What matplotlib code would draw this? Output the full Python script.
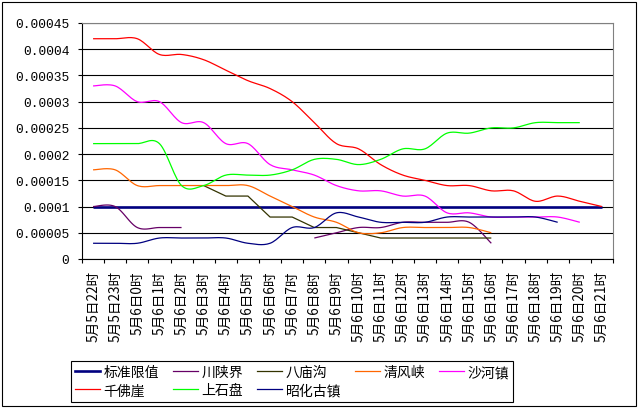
import matplotlib
matplotlib.use('Agg')
import matplotlib.pyplot as plt
import numpy as np
from matplotlib.patches import Rectangle
from matplotlib.lines import Line2D

plt.rcParams['font.family'] = ['Noto Sans CJK SC', 'DejaVu Sans']

# ---------------- data ----------------
categories = ['5月5日22时', '5月5日23时', '5月6日0时', '5月6日1时', '5月6日2时', '5月6日3时',
              '5月6日4时', '5月6日5时', '5月6日6时', '5月6日7时', '5月6日8时', '5月6日9时',
              '5月6日10时', '5月6日11时', '5月6日12时', '5月6日13时', '5月6日14时', '5月6日15时',
              '5月6日16时', '5月6日17时', '5月6日18时', '5月6日19时', '5月6日20时', '5月6日21时']

standard = [0.0001, 0.0001, 0.0001, 0.0001, 0.0001, 0.0001, 0.0001, 0.0001, 0.0001, 0.0001,
            0.0001, 0.0001, 0.0001, 0.0001, 0.0001, 0.0001, 0.0001, 0.0001, 0.0001, 0.0001,
            0.0001, 0.0001, 0.0001, 0.0001]
chuanshanjie = [0.0001, 0.0001, 0.00006, 0.00006, 0.00006, None, None, None, None, None,
                0.00004, 0.00005, 0.00006, 0.00006, 0.00007, 0.00007, 0.00007, 0.00007, 0.00003, None,
                None, None, None, None]
bamiaogou = [None, None, None, None, None, 0.00014, 0.00012, 0.00012, 0.00008, 0.00008,
             0.00006, 0.00006, 0.00005, 0.00004, 0.00004, 0.00004, 0.00004, 0.00004, 0.00004, None,
             None, None, None, None]
qingfengxia = [0.00017, 0.00017, 0.00014, 0.00014, 0.00014, 0.00014, 0.00014, 0.00014, 0.00012, 0.0001,
               0.00008, 0.00007, 0.00005, 0.00005, 0.00006, 0.00006, 0.00006, 0.00006, 0.00005, None,
               None, None, None, None]
shahezhen = [0.00033, 0.00033, 0.0003, 0.0003, 0.00026, 0.00026, 0.00022, 0.00022, 0.00018, 0.00017,
             0.00016, 0.00014, 0.00013, 0.00013, 0.00012, 0.00012, 0.000088, 0.000088, 0.00008, 0.00008,
             0.00008, 0.00008, 0.00007, None]
qianfoya = [0.00042, 0.00042, 0.00042, 0.00039, 0.00039, 0.00038, 0.00036, 0.00034, 0.000325, 0.0003,
            0.00026, 0.00022, 0.00021, 0.00018, 0.00016, 0.00015, 0.00014, 0.00014, 0.00013, 0.00013,
            0.00011, 0.00012, 0.00011, 0.0001]
shangshipan = [0.00022, 0.00022, 0.00022, 0.00022, 0.00014, 0.00014, 0.00016, 0.00016, 0.00016, 0.00017,
               0.00019, 0.00019, 0.00018, 0.00019, 0.00021, 0.00021, 0.00024, 0.00024, 0.00025, 0.00025,
               0.00026, 0.00026, 0.00026, None]
zhaohuaguzhen = [0.00003, 0.00003, 0.00003, 0.00004, 0.00004, 0.00004, 0.00004, 0.00003, 0.00003, 0.00006,
                 0.00006, 0.000088, 0.00008, 0.00007, 0.00007, 0.00007, 0.00008, 0.00008, 0.00008, 0.00008,
                 0.00008, 0.00007, None, None]

yticks = [0, 0.00005, 0.0001, 0.00015, 0.0002, 0.00025, 0.0003, 0.00035, 0.0004, 0.00045]
ytick_labels = ['0', '0.00005', '0.0001', '0.00015', '0.0002', '0.00025', '0.0003', '0.00035',
                '0.0004', '0.00045']

series = [
    ('标准限值', standard, '#000080', 1.9, False),
    ('川陕界', chuanshanjie, '#660066', 0.9, True),
    ('八庙沟', bamiaogou, '#333300', 0.9, False),
    ('清风峡', qingfengxia, '#FF6600', 0.9, True),
    ('沙河镇', shahezhen, '#FF00FF', 0.9, True),
    ('千佛崖', qianfoya, '#FF0000', 0.9, True),
    ('上石盘', shangshipan, '#00FF00', 0.9, True),
    ('昭化古镇', zhaohuaguzhen, '#000080', 0.9, True),
]


def smooth_segment(xs, ys, n=16):
    P = np.column_stack([xs, ys]).astype(float)
    if len(P) < 2:
        return P
    out = [P[0]]
    t = np.linspace(0, 1, n)[1:, None]
    for i in range(len(P) - 1):
        p0 = P[i - 1] if i > 0 else P[i]
        p1 = P[i]
        p2 = P[i + 1]
        p3 = P[i + 2] if i + 2 < len(P) else P[i + 1]
        c1 = p1 + (p2 - p0) / 6.0
        c2 = p2 - (p3 - p1) / 6.0
        b = (1 - t) ** 3 * p1 + 3 * (1 - t) ** 2 * t * c1 + 3 * (1 - t) * t ** 2 * c2 + t ** 3 * p2
        out.extend(b)
    return np.array(out)


def segments(vals):
    segs, cur = [], []
    for i, v in enumerate(vals):
        if v is None:
            if cur:
                segs.append(cur)
            cur = []
        else:
            cur.append((i, v))
    if cur:
        segs.append(cur)
    return segs


W, H = 642, 410
fig = plt.figure(figsize=(W / 100, H / 100), dpi=100)
ax = fig.add_axes([82 / W, 150 / H, (613 - 82) / W, (260 - 24) / H])

ax.set_xlim(-0.5, len(categories) - 0.5)
ax.set_ylim(0, 0.00045)

for name, vals, color, lw, smooth in series:
    for seg in segments(vals):
        xs = [p[0] for p in seg]
        ys = [p[1] for p in seg]
        if smooth:
            pts = smooth_segment(xs, ys)
            ax.plot(pts[:, 0], pts[:, 1], color=color, lw=lw, solid_capstyle='butt')
        else:
            ax.plot(xs, ys, color=color, lw=lw, solid_capstyle='butt')

# axes styling
ax.set_yticks(yticks)
ax.set_yticklabels(ytick_labels)
for lbl in ax.get_yticklabels():
    lbl.set_fontfamily('Liberation Mono')
    lbl.set_fontsize(9.3)
ax.tick_params(axis='y', length=3, width=0.8, pad=6, colors='black')
ax.yaxis.grid(True, color='black', lw=0.8)
ax.set_axisbelow(True)

ax.set_xticks(range(len(categories)))
ax.set_xticklabels(categories, rotation=90, fontsize=9.8, va='top', ha='center')
ax.tick_params(axis='x', which='major', length=0, pad=8)
ax.set_xticks(np.arange(-0.5, len(categories), 1), minor=True)
ax.tick_params(axis='x', which='minor', length=3, width=0.8, direction='out')

for s in ['left', 'bottom']:
    ax.spines[s].set_color('black')
    ax.spines[s].set_linewidth(0.8)
for s in ['top', 'right']:
    ax.spines[s].set_color('#808080')
    ax.spines[s].set_linewidth(0.8)

# legend (column-major ordering to give Excel-like row-major layout)
handles = {name: Line2D([], [], color=color, lw=(1.9 if name == '标准限值' else 0.9))
           for name, vals, color, lw, smooth in series}
order = ['标准限值', '千佛崖', '川陕界', '上石盘', '八庙沟', '昭化古镇', '清风峡', '沙河镇']
leg = fig.legend([handles[n] for n in order], order, loc='upper left',
                 bbox_to_anchor=(71 / W, 1 - 362 / H), ncol=5, frameon=True, fancybox=False,
                 edgecolor='black', framealpha=1, fontsize=10, handlelength=1.8,
                 handletextpad=0.25, columnspacing=1.0, borderpad=0.3, labelspacing=0.3,
                 borderaxespad=0)
leg.get_frame().set_linewidth(0.8)

# outer chart border
fig.patches.append(Rectangle((2 / W, 3 / H), (636 - 2) / W, (407 - 3) / H, transform=fig.transFigure,
                             fill=False, edgecolor='black', lw=0.8))

fig.savefig('out.png', dpi=100)
